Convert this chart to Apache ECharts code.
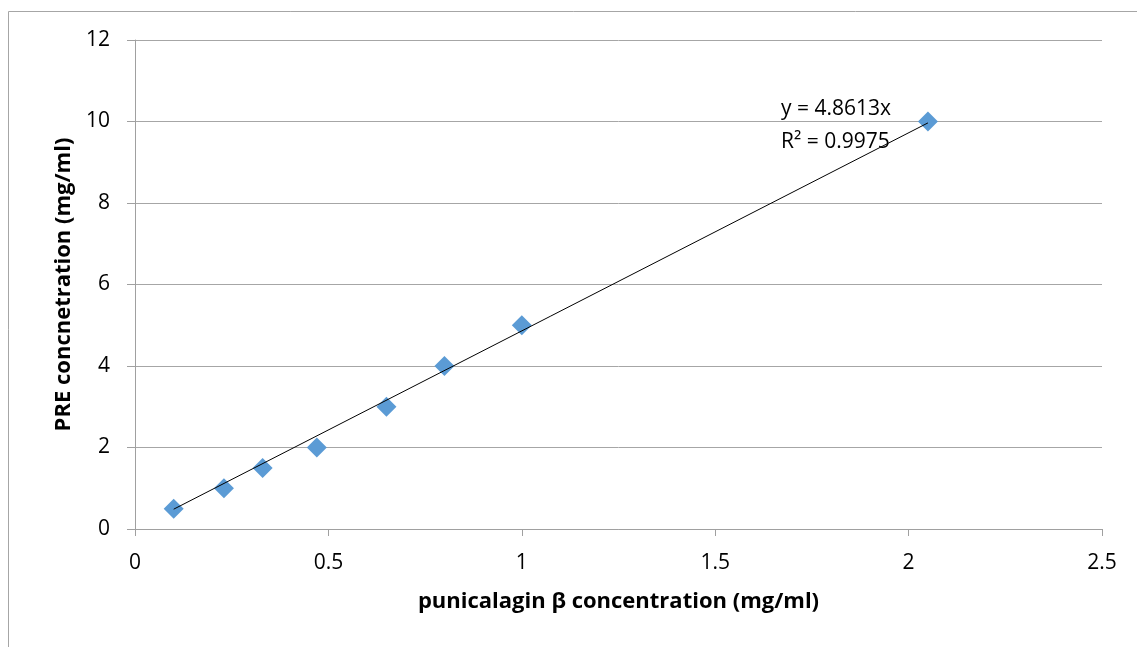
<!DOCTYPE html>
<html>
<head>
<meta charset="UTF-8">
<title>punicalagin calibration</title>
<script src="https://cdn.jsdelivr.net/npm/echarts@6/dist/echarts.min.js"></script>
<style>
  html, body { margin: 0; padding: 0; background: #fff; }
  #chart { width: 1137px; height: 647px; }
</style>
</head>
<body>
<div id="chart"></div>
<script>
// measured points (x: punicalagin beta, y: PRE)
var xVals = [0.1, 0.23, 0.33, 0.47, 0.65, 0.8, 1.0, 2.05];
var yVals = [0.5, 1, 1.5, 2, 3, 4, 5, 10];
// linear trendline through origin
var slope = 4.8613;
var trendX = [0.1, 2.05];
var eqText = ['y = 4.8613x', 'R² = 0.9975'];

var pts = xVals.map(function (x, i) { return [x, yVals[i]]; });
var trend = trendX.map(function (x) { return [x, slope * x]; });

var chart = echarts.init(document.getElementById('chart'));
var font = 'Open Sans, Liberation Sans, sans-serif';

chart.setOption({
    animation: false,
    graphic: [{
        type: 'rect',
        shape: { x: 8.5, y: 11.5, width: 1140, height: 650 },
        style: { fill: 'none', stroke: '#a6a6a6', lineWidth: 1 }
    }],
    grid: { left: 135, right: 35, top: 40, bottom: 118 },
    xAxis: {
        type: 'value', min: 0, max: 2.5, interval: 0.5,
        name: 'punicalagin β concentration (mg/ml)',
        nameLocation: 'middle', nameGap: 62,
        nameTextStyle: { fontFamily: font, fontWeight: 'bold', fontSize: 22, color: '#000' },
        axisLine: { lineStyle: { color: '#a0a0a0' } },
        axisTick: { show: true, length: 7, lineStyle: { color: '#a0a0a0' } },
        axisLabel: { fontFamily: font, fontSize: 21, color: '#000', margin: 24 },
        splitLine: { show: false }
    },
    yAxis: {
        type: 'value', min: 0, max: 12, interval: 2,
        name: 'PRE concnetration (mg/ml)',
        nameLocation: 'middle', nameGap: 60,
        nameTextStyle: { fontFamily: font, fontWeight: 'bold', fontSize: 22, color: '#000' },
        axisLine: { show: true, lineStyle: { color: '#a0a0a0' } },
        axisTick: { show: true, length: 8, lineStyle: { color: '#a0a0a0' } },
        axisLabel: { fontFamily: font, fontSize: 21, color: '#000', margin: 25 },
        splitLine: { lineStyle: { color: '#a6a6a6' } }
    },
    series: [{
        type: 'line',
        data: trend,
        symbol: 'none',
        lineStyle: { color: '#000', width: 1 },
        z: 3
    }, {
        type: 'scatter',
        data: pts,
        symbol: 'diamond',
        symbolSize: [20, 20],
        itemStyle: { color: '#5b9bd5', opacity: 1 },
        z: 2
    }, {
        type: 'scatter',
        data: [[1.67, 9.9]],
        symbolSize: 0,
        silent: true,
        itemStyle: { opacity: 1 },
        label: {
            show: true, position: 'right', distance: 0,
            formatter: eqText.join('\n'),
            fontFamily: font, fontSize: 21, color: '#000', lineHeight: 33, align: 'left'
        },
        z: 4
    }]
});
</script>
</body>
</html>
